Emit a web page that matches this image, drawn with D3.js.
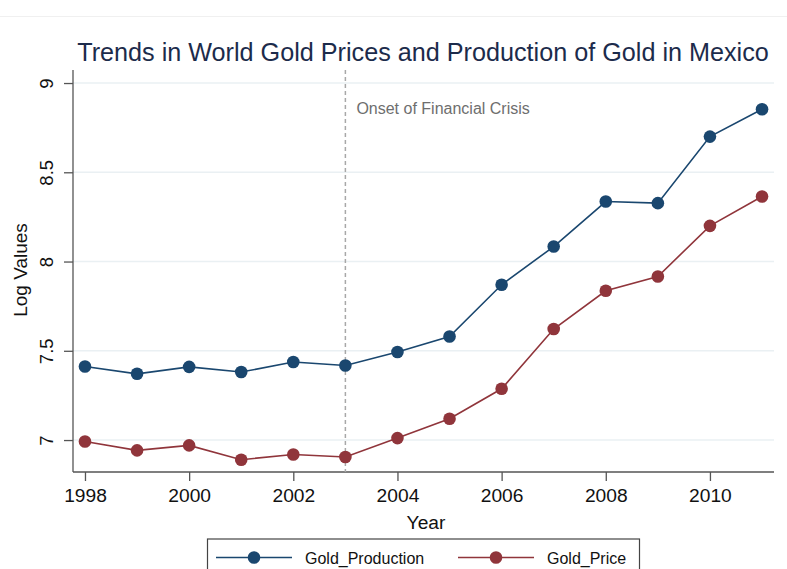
<!DOCTYPE html>
<html>
<head>
<meta charset="utf-8">
<script src="https://cdn.jsdelivr.net/npm/d3@7"></script>
<style>
  html, body { margin: 0; padding: 0; background: #ffffff; }
  svg { display: block; font-family: "Liberation Sans", Arial, sans-serif; }
</style>
</head>
<body>
<svg id="chart" width="787" height="569"></svg>
<script>
// Log of Mexican gold production and world gold price, 1998-2011
const years = [1998, 1999, 2000, 2001, 2002, 2003, 2004, 2005, 2006, 2007, 2008, 2009, 2010, 2011];
const goldProduction = [7.412, 7.371, 7.410, 7.381, 7.437, 7.418, 7.493, 7.580, 7.870, 8.084, 8.336, 8.327, 8.700, 8.853];
const goldPrice = [6.992, 6.942, 6.970, 6.890, 6.919, 6.905, 7.011, 7.119, 7.287, 7.622, 7.836, 7.916, 8.200, 8.364];
const xTicks = [1998, 2000, 2002, 2004, 2006, 2008, 2010];
const yTicks = [7, 7.5, 8, 8.5, 9];
const crisisYear = 2003;
const seriesNames = ["Gold_Production", "Gold_Price"];
const seriesColors = ["#1a476f", "#90353b"];

const svg = d3.select("#chart");

// faint rule near the top of the page
svg.append("line").attr("x1", 0).attr("x2", 787).attr("y1", 16.5).attr("y2", 16.5)
  .attr("stroke", "#f0f0f0").attr("stroke-width", 1);

const plot = { left: 73, right: 774, top: 70, bottom: 472 };

const x = d3.scaleLinear().domain([1997.77, 2011.23]).range([plot.left, plot.right]);
const y = d3.scaleLinear().domain([6.821, 9.073]).range([plot.bottom, plot.top]);

// horizontal grid
svg.append("g").selectAll("line").data(yTicks).join("line")
  .attr("x1", plot.left).attr("x2", plot.right)
  .attr("y1", d => y(d)).attr("y2", d => y(d))
  .attr("stroke", "#eaf0f3").attr("stroke-width", 1.5);

// title
svg.append("text").attr("x", 423).attr("y", 61).attr("text-anchor", "middle")
  .attr("font-size", 25.2).attr("fill", "#1c2b4b")
  .text("Trends in World Gold Prices and Production of Gold in Mexico");

// y axis
const yAxis = svg.append("g").attr("transform", `translate(${plot.left},0)`)
  .call(d3.axisLeft(y).tickValues(yTicks).tickSize(9).tickPadding(0).tickFormat(d3.format("")));
yAxis.select(".domain").attr("stroke", "#555").attr("stroke-width", 1.3)
  .attr("d", `M0,${plot.top}V${plot.bottom}`);
yAxis.selectAll(".tick line").attr("stroke", "#555").attr("stroke-width", 1.3);
yAxis.selectAll(".tick text").remove();
yAxis.selectAll(".tick").append("text")
  .attr("transform", "translate(-26,0) rotate(-90)")
  .attr("text-anchor", "middle").attr("dy", "0.35em")
  .attr("font-size", 18.5).attr("fill", "#111")
  .text(d => d3.format("")(d));

// x axis
const xAxis = svg.append("g").attr("transform", `translate(0,${plot.bottom})`)
  .call(d3.axisBottom(x).tickValues(xTicks).tickSize(9).tickPadding(7).tickFormat(d3.format("d")));
xAxis.select(".domain").attr("stroke", "#555").attr("stroke-width", 1.3)
  .attr("d", `M${plot.left},0H${plot.right}`);
xAxis.selectAll(".tick line").attr("stroke", "#555").attr("stroke-width", 1.3);
xAxis.selectAll(".tick text").attr("font-size", 19.2).attr("fill", "#111")
  .attr("font-family", "Liberation Sans, Arial, sans-serif");

// axis titles
svg.append("text").attr("x", 426).attr("y", 529).attr("text-anchor", "middle")
  .attr("font-size", 19.2).attr("fill", "#111").text("Year");
svg.append("text").attr("transform", "translate(27,270) rotate(-90)")
  .attr("text-anchor", "middle").attr("font-size", 19).attr("fill", "#111").text("Log Values");

// crisis marker
svg.append("line").attr("x1", x(crisisYear)).attr("x2", x(crisisYear))
  .attr("y1", plot.top).attr("y2", plot.bottom)
  .attr("stroke", "#a8a8a8").attr("stroke-width", 1.5).attr("stroke-dasharray", "4,3");
svg.append("text").attr("x", x(crisisYear) + 11).attr("y", 114)
  .attr("font-size", 16).attr("fill", "#6e6e6e").text("Onset of Financial Crisis");

// series
const series = [goldProduction, goldPrice];
const line = d3.line().x((d, i) => x(years[i])).y(d => y(d));
series.forEach((vals, s) => {
  svg.append("path").datum(vals).attr("d", line)
    .attr("fill", "none").attr("stroke", seriesColors[s]).attr("stroke-width", 1.6);
  svg.append("g").selectAll("circle").data(vals).join("circle")
    .attr("cx", (d, i) => x(years[i])).attr("cy", d => y(d)).attr("r", 6.3)
    .attr("fill", seriesColors[s]);
});

// legend
const legend = svg.append("g");
legend.append("rect").attr("x", 207.5).attr("y", 539).attr("width", 432).attr("height", 60)
  .attr("fill", "#fff").attr("stroke", "#444").attr("stroke-width", 1.2);
const legendX = [216, 458];
seriesNames.forEach((name, s) => {
  const g = legend.append("g").attr("transform", `translate(${legendX[s]},557.5)`);
  g.append("line").attr("x1", 0).attr("x2", 76).attr("stroke", seriesColors[s]).attr("stroke-width", 1.6);
  g.append("circle").attr("cx", 38).attr("r", 6.3).attr("fill", seriesColors[s]);
  g.append("text").attr("x", 89).attr("y", 6).attr("font-size", 16).attr("fill", "#111").text(name);
});
</script>
</body>
</html>
